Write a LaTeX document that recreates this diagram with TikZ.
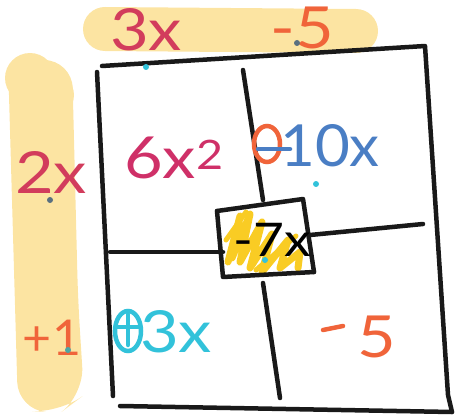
\documentclass[tikz,border=0pt]{standalone}
\usepackage{fontspec}
\setmainfont{Lato}
\definecolor{hl}{HTML}{FCE4A2}
\definecolor{crim}{HTML}{D23C5C}
\definecolor{pinkc}{HTML}{CF3068}
\definecolor{orng}{HTML}{F0643A}
\definecolor{blu}{HTML}{4A7EC4}
\definecolor{cyn}{HTML}{32C2DA}
\definecolor{scrib}{HTML}{F9CC24}
\definecolor{dotg}{HTML}{5A7080}
\begin{document}
\begin{tikzpicture}[x=1pt,y=-1pt,
  ink/.style={line width=4.5pt,line cap=round,line join=round,black!90},
  band/.style={line width=44pt,line cap=round,hl},
  lbl/.style={inner sep=0pt,xscale=1.15,font=\fontsize{58}{58}\selectfont},
  dotc/.style={fill,circle,inner sep=0pt,minimum size=6pt}]
\useasboundingbox (0,0) rectangle (463,417);
% highlight bands
\draw[band] (105,29) -- (356,31);
\fill[hl,rounded corners=28pt] (8,60) -- (72,60) -- (78,300) -- (84,395) -- (60,413) -- (18,410) -- cycle;
\fill[hl] (30,78) circle (25pt);
\fill[hl] (52,95) circle (22pt);
% outer grid
\coordinate (tl) at (102,66);
\coordinate (tr) at (425,46);
\coordinate (br) at (452,412);
\coordinate (bl) at (120,406);
\draw[ink] (tl) -- (tr) -- (448,395) -- (br);
\draw[ink] (bl) -- (br);
\draw[ink] (97,72) -- (113,396);
% center box
\coordinate (c1) at (217,211);
\coordinate (c2) at (303,199);
\coordinate (c3) at (314,272);
\coordinate (c4) at (223,277);
\draw[scrib,line width=7pt,line cap=round,line join=round] (228,262) -- (240,216) -- (232,258) -- (250,214) -- (240,262) -- (262,222) -- (250,268) -- (272,234) -- (262,272) -- (288,240) -- (280,268) -- (300,252) -- (298,268);
\draw[scrib,line width=5pt,line cap=round,line join=round] (226,240) -- (246,212) (256,270) -- (296,236);
\draw[ink] (c1) -- (c2) -- (c3);
\draw[ink] (c1) -- (c4) -- (c3);
% inner lines
\draw[ink] (243,70) -- (263,200);
\draw[ink] (263,283) -- (280,398);
\draw[ink] (110,252) -- (223,252);
\draw[ink] (310,235) -- (423,224);
% labels
\node[lbl,text=crim] (t1) at (146,30) {3x};
\node[lbl,text=orng] (t2) at (302,28) {-5};
\node[lbl,text=crim] (l1) at (51,172) {2x};
\node[lbl,text=orng,xscale=0.75,yscale=0.85] (l2) at (52,338) {+1};
\node[lbl,text=pinkc] (a) at (174,158) {6x$^{\fontsize{34}{34}\selectfont\mathrm{2}}$};
\node[lbl,text=blu,xscale=0.9] (b) at (330,146) {10x};
\draw[orng,line width=4.5pt] (267,144) ellipse (13pt and 18pt);
\draw[blu,line width=4.5pt,line cap=round] (258,149) -- (290,149);
\node[lbl,text=black,scale=0.8] (c) at (272,240) {-7x};
\node[lbl,text=cyn] (d) at (176,332) {3x};
\draw[cyn,line width=4.5pt] (128,331) ellipse (13pt and 20pt);
\draw[cyn,line width=4.5pt,line cap=round] (117,327) -- (140,327) (128,314) -- (128,345);
\node[lbl,text=orng] (e) at (377,337) {5};
\draw[orng,line width=4.5pt,line cap=round] (323,330) -- (343,326);
% dots
\node[dotc,cyn] (d1) at (146,67) {};
\node[dotc,dotg] (d2) at (297,43) {};
\node[dotc,dotg] (d3) at (50,200) {};
\node[dotc,cyn] (d4) at (316,184) {};
\node[dotc,cyn] (d5) at (265,260) {};
\node[dotc,fill=teal!70] (d6) at (68,350) {};
\end{tikzpicture}
\end{document}
